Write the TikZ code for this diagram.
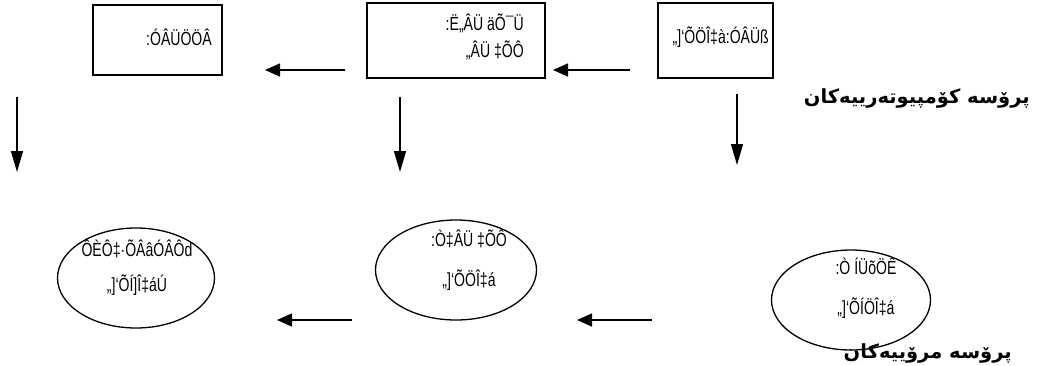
\documentclass[tikz,border=0pt]{standalone}
\usepackage{fontspec}
\setmainfont{Liberation Sans}
\newfontfamily\garb[FakeStretch=0.74]{Liberation Sans}
\newfontfamily\kufont[Script=Arabic]{DejaVu Sans}
\TeXXeTstate=1
\usetikzlibrary{arrows.meta,shapes.geometric}
\begin{document}
\begin{tikzpicture}[x=1pt,y=-1pt,
  boxst/.style={draw, line width=1.8pt, inner sep=0pt},
  ellst/.style={draw, ellipse, line width=1.3pt, inner sep=0pt},
  gtext/.style={font=\garb\fontsize{19}{27}\selectfont, inner sep=0pt, align=right},
  harrow/.style={line width=1.5pt, -{Triangle[length=15pt,width=13pt]}},
  varrow/.style={line width=1.5pt, -{Triangle[length=21pt,width=12pt]}},
  kulabel/.style={font=\kufont\bfseries\fontsize{19.5}{22}\selectfont, inner sep=0pt, anchor=east}
]
\useasboundingbox (0,0) rectangle (1037,365);
% top boxes
\node[boxst, minimum width=129pt, minimum height=70pt] (b1) at (157.5,40) {};
\node[gtext, anchor=east] (t1) at (212,37) {:ÓÂÜÖÖÂ};
\node[boxst, minimum width=178pt, minimum height=75pt] (b2) at (456,40.5) {};
\node[gtext, anchor=east] (t2) at (524,37) {:Ë„ÂÜ äÕ¯Ü\\„ÂÜ ‡ÕÔ};
\node[boxst, minimum width=115pt, minimum height=75pt] (b3) at (715.5,40.5) {};
\node[gtext, anchor=east] (t3) at (769,37) {„]‘ÕÖÎ‡à:ÓÂÜß};
\node[kulabel] (k1) at (1030,98) {\beginR پرۆسه کۆمپیوتەرییەکان\endR};
% top horizontal arrows
\coordinate (a1s) at (345,70); \coordinate (a1e) at (265,70);
\coordinate (a2s) at (630,70); \coordinate (a2e) at (553,70);
\draw[harrow] (a1s) -- (a1e);
\draw[harrow] (a2s) -- (a2e);
% down arrows
\coordinate (d1s) at (17,97); \coordinate (d1e) at (17,172);
\coordinate (d2s) at (400,97); \coordinate (d2e) at (400,172);
\coordinate (d3s) at (737,94); \coordinate (d3e) at (737,165);
\draw[varrow] (d1s) -- (d1e);
\draw[varrow] (d2s) -- (d2e);
\draw[varrow] (d3s) -- (d3e);
% ellipses
\node[ellst, minimum width=157pt, minimum height=100pt] (e1) at (136,278) {};
\node[gtext, align=center] (et1) at (137,268) {ÔÈÔ‡·ÕÂâÓÂÔd\\[8pt]„]‘ÕÍ]Î‡áÚ};
\node[ellst, minimum width=161pt, minimum height=100pt] (e2) at (456,270) {};
\node[gtext, align=center] (et2) at (469,260) {:Ò‡ÂÜ ‡ÕÔ\\[13pt]„]‘ÕÖÎ‡á};
\node[ellst, minimum width=159pt, minimum height=100pt] (e3) at (851,300) {};
\node[gtext, align=center] (et3) at (866,288) {:Ò ÍÜõÖÊ\\[13pt]„]‘ÕÍÖÎ‡á};
% bottom arrows
\coordinate (a3s) at (352,320); \coordinate (a3e) at (277,320);
\coordinate (a4s) at (652,320); \coordinate (a4e) at (577,320);
\draw[harrow] (a3s) -- (a3e);
\draw[harrow] (a4s) -- (a4e);
\node[kulabel] (k2) at (1012,353) {\beginR پرۆسه مرۆییەکان\endR};
\end{tikzpicture}
\end{document}
